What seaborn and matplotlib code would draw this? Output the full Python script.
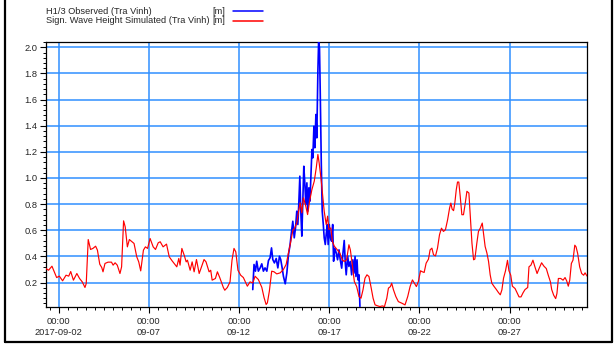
import matplotlib
matplotlib.use("Agg")
import matplotlib.pyplot as plt
import matplotlib.dates as mdates
from matplotlib.lines import Line2D
from matplotlib.ticker import MultipleLocator, FixedLocator
import numpy as np
import pandas as pd
import seaborn as sns

# Reference time for the day offsets below
T0 = pd.Timestamp("2017-09-02 00:00")

# Simulated significant wave height (Tra Vinh): day offset from T0, value [m]
sim_day = [
    -0.70, -0.56, -0.37, -0.24, -0.11, 0.04, 0.22, 0.41, 0.56, 0.67, 0.82, 1.01,
    1.16, 1.31, 1.46, 1.53, 1.64, 1.77, 1.90, 2.05, 2.15, 2.28, 2.39, 2.46, 2.57,
    2.74, 2.93, 3.02, 3.13, 3.25, 3.40, 3.49, 3.60, 3.69, 3.81, 3.92, 4.07, 4.18,
    4.33, 4.44, 4.55, 4.70, 4.81, 4.93, 5.07, 5.24, 5.37, 5.52, 5.63, 5.79, 5.98,
    6.13, 6.29, 6.48, 6.55, 6.66, 6.73, 6.83, 6.96, 7.07, 7.14, 7.29, 7.40, 7.51,
    7.64, 7.79, 8.06, 8.17, 8.34, 8.43, 8.51, 8.69, 8.80, 8.93, 9.13, 9.21, 9.35,
    9.50, 9.61, 9.72, 9.82, 9.94, 10.09, 10.24, 10.46, 10.61, 10.76, 10.89, 11.07,
    11.26, 11.39, 11.50, 11.57, 11.68, 11.81, 11.94, 12.09, 12.28, 12.46, 12.61,
    12.76, 12.87, 12.98, 13.09, 13.20, 13.30, 13.39, 13.48, 13.57, 13.70, 13.80,
    13.91, 14.04, 14.17, 14.28, 14.37, 14.44, 14.54, 14.65, 14.72, 14.83, 14.91,
    14.98, 15.09, 15.17, 15.28, 15.43, 15.59, 15.72, 15.83, 15.96, 16.09, 16.17,
    16.28, 16.39, 16.52, 16.65, 16.76, 16.87, 16.98, 17.09, 17.20, 17.31, 17.43,
    17.54, 17.69, 17.81, 17.94, 18.06, 18.19, 18.28, 18.39, 18.46, 18.56, 18.69,
    18.83, 19.02, 19.20, 19.35, 19.48, 19.61, 19.72, 19.83, 19.94, 20.06, 20.13,
    20.26, 20.37, 20.50, 20.59, 20.69, 20.78, 20.89, 21.00, 21.11, 21.22, 21.33,
    21.44, 21.56, 21.67, 21.74, 21.81, 21.89, 21.96, 22.04, 22.11, 22.18, 22.26,
    22.35, 22.44, 22.54, 22.63, 22.74, 22.81, 22.91, 23.00, 23.07, 23.18, 23.27,
    23.37, 23.48, 23.55, 23.64, 23.74, 23.83, 23.92, 24.01, 24.14, 24.25, 24.38,
    24.48, 24.57, 24.66, 24.77, 24.88, 24.96, 25.06, 25.15, 25.30, 25.43, 25.52,
    25.63, 25.74, 25.85, 26.00, 26.07, 26.18, 26.29, 26.40, 26.52, 26.63, 26.77,
    26.90, 27.03, 27.14, 27.26, 27.33, 27.44, 27.55, 27.62, 27.70, 27.83, 27.96,
    28.07, 28.16, 28.25, 28.33, 28.42, 28.51, 28.61, 28.68, 28.77, 28.88, 28.99,
    29.10, 29.18, 29.29,
]
sim_hs = [
    0.307, 0.294, 0.325, 0.282, 0.238, 0.249, 0.213, 0.256, 0.249, 0.284, 0.218, 0.269,
    0.231, 0.205, 0.162, 0.192, 0.529, 0.453, 0.461, 0.478, 0.448, 0.340, 0.315, 0.282, 0.346,
    0.356, 0.356, 0.333, 0.351, 0.333, 0.269, 0.320, 0.672, 0.626, 0.473, 0.529, 0.512, 0.499,
    0.397, 0.358, 0.289, 0.448, 0.473, 0.461, 0.537, 0.473, 0.453, 0.504, 0.512, 0.473, 0.494,
    0.397, 0.366, 0.333, 0.320, 0.384, 0.333, 0.461, 0.409, 0.358, 0.371, 0.294, 0.358, 0.282,
    0.376, 0.269, 0.376, 0.358, 0.282, 0.294, 0.218, 0.231, 0.282, 0.238, 0.162, 0.141, 0.162,
    0.205, 0.371, 0.461, 0.435, 0.294, 0.256, 0.238, 0.172, 0.205, 0.197, 0.248, 0.223,
    0.164, 0.083, 0.032, 0.044, 0.134, 0.287, 0.282, 0.266, 0.274, 0.300, 0.338,
    0.440, 0.516, 0.598, 0.618, 0.657, 0.746, 0.810, 0.733, 0.848, 0.784, 0.720,
    0.823, 0.912, 0.976, 1.078, 1.180, 1.116, 1.001, 0.848, 0.746, 0.644, 0.708,
    0.606, 0.618, 0.516, 0.478, 0.453, 0.425, 0.374, 0.361, 0.374, 0.489, 0.450,
    0.335, 0.208, 0.169, 0.093, 0.080, 0.144, 0.233, 0.259, 0.246, 0.169, 0.080,
    0.029, 0.021, 0.016, 0.021, 0.016, 0.080, 0.157, 0.169, 0.195, 0.144, 0.093,
    0.054, 0.042, 0.029, 0.093, 0.169, 0.220, 0.195, 0.169, 0.208, 0.290, 0.284,
    0.277, 0.348, 0.379, 0.450, 0.463, 0.412, 0.404, 0.463, 0.565, 0.616, 0.591,
    0.604, 0.680, 0.770, 0.808, 0.762, 0.750, 0.808, 0.910, 0.969, 0.969, 0.859,
    0.719, 0.719, 0.808, 0.898, 0.885, 0.731, 0.501, 0.374, 0.379, 0.501, 0.591,
    0.616, 0.655, 0.578, 0.476, 0.425, 0.361, 0.259, 0.195, 0.169, 0.149, 0.123,
    0.106, 0.144, 0.233, 0.290, 0.370, 0.290, 0.256, 0.172, 0.154, 0.116, 0.090,
    0.090, 0.121, 0.146, 0.162, 0.320, 0.333, 0.371, 0.320, 0.269, 0.307, 0.351,
    0.325, 0.307, 0.256, 0.205, 0.146, 0.103, 0.077, 0.116, 0.231, 0.231, 0.218,
    0.238, 0.213, 0.172, 0.218, 0.346, 0.371, 0.486, 0.473, 0.422, 0.320, 0.269,
    0.256, 0.274, 0.249,
]

# Observed H1/3 (Tra Vinh): day offset from T0, value [m]
obs_day = [
    10.76, 10.83, 10.91, 10.98, 11.07, 11.17, 11.26, 11.35, 11.44, 11.54, 11.63,
    11.72, 11.80, 11.87, 11.96, 12.06, 12.15, 12.24, 12.31, 12.39, 12.46, 12.56,
    12.65, 12.74, 12.83, 12.91, 12.98, 13.06, 13.13, 13.20, 13.26, 13.31, 13.37,
    13.43, 13.48, 13.54, 13.59, 13.65, 13.70, 13.76, 13.81, 13.87, 13.93, 13.98,
    14.04, 14.09, 14.15, 14.20, 14.26, 14.31, 14.37, 14.41, 14.46, 14.50, 14.56,
    14.61, 14.67, 14.72, 14.78, 14.83, 14.89, 14.94, 15.00, 15.06, 15.13, 15.19,
    15.24, 15.31, 15.39, 15.46, 15.54, 15.61, 15.69, 15.76, 15.83, 15.89, 15.94,
    16.02, 16.09, 16.17, 16.24, 16.31, 16.37, 16.43, 16.48, 16.54, 16.59, 16.65,
    16.70,
]
obs_hs = [
    0.146, 0.338, 0.287, 0.363, 0.287, 0.312, 0.343, 0.287, 0.312, 0.287, 0.368,
    0.389, 0.465, 0.376, 0.350, 0.384, 0.312, 0.401, 0.376, 0.312, 0.248, 0.190,
    0.274, 0.414, 0.491, 0.593, 0.669, 0.542, 0.618, 0.746, 0.644, 0.797, 1.014,
    0.720, 0.555, 0.848, 1.090, 0.950, 0.797, 0.963, 0.746, 0.925, 0.823, 1.001,
    1.218, 1.154, 1.396, 1.231, 1.486, 1.307, 1.817, 2.040, 1.996, 1.664, 1.103,
    0.746, 0.644, 0.542, 0.491, 0.567, 0.644, 0.491, 0.644, 0.542, 0.516, 0.644,
    0.363, 0.463, 0.425, 0.374, 0.450, 0.374, 0.310, 0.425, 0.522, 0.348, 0.259,
    0.404, 0.323, 0.361, 0.259, 0.374, 0.272, 0.399, 0.246, 0.374, 0.220, 0.259,
    0.016,
]

# Axis text
obs_label = "H1/3 Observed (Tra Vinh)"
sim_label = "Sign. Wave Height Simulated (Tra Vinh)"
unit_label = "[m]"
x_tick_dates = ["2017-09-02", "2017-09-07", "2017-09-12", "2017-09-17", "2017-09-22", "2017-09-27"]
x_tick_labels = ["00:00\n2017-09-02", "00:00\n09-07", "00:00\n09-12",
                 "00:00\n09-17", "00:00\n09-22", "00:00\n09-27"]
y_ticks = [0.2, 0.4, 0.6, 0.8, 1.0, 1.2, 1.4, 1.6, 1.8, 2.0]

sim_df = pd.DataFrame({"time": T0 + pd.to_timedelta(sim_day, unit="D"), "hs": sim_hs})
obs_df = pd.DataFrame({"time": T0 + pd.to_timedelta(obs_day, unit="D"), "hs": obs_hs})

sns.set_style("white")
plt.rcParams["font.family"] = ["Liberation Sans", "DejaVu Sans"]
FS = 6.7
BLUE = "#0000ff"
RED = "#ff0000"
GRID = "#3090ff"

W, H = 616, 344
fig = plt.figure(figsize=(W / 100, H / 100), dpi=100)
ax = fig.add_axes([46 / W, 1 - 306.7 / H, (586.7 - 46) / W, (306.7 - 41.7) / H])

sns.lineplot(data=obs_df, x="time", y="hs", color=BLUE, lw=1.2, ax=ax,
             estimator=None, sort=False, zorder=3)
sns.lineplot(data=sim_df, x="time", y="hs", color=RED, lw=0.85, ax=ax,
             estimator=None, sort=False, zorder=4)

ax.set_xlim(T0 + pd.Timedelta(days=-0.70), T0 + pd.Timedelta(days=29.27))
ax.set_ylim(0.015, 2.043)

# Axis ticks
major_x = [mdates.date2num(pd.Timestamp(d)) for d in x_tick_dates]
ax.xaxis.set_major_locator(FixedLocator(major_x))
ax.set_xticklabels(x_tick_labels, fontsize=FS, linespacing=1.3)
ax.xaxis.set_minor_locator(mdates.HourLocator(byhour=[0, 12]))
ax.yaxis.set_major_locator(FixedLocator(y_ticks))
ax.set_yticklabels([f"{v:.1f}" for v in y_ticks], fontsize=FS)
ax.yaxis.set_minor_locator(MultipleLocator(0.04))
ax.tick_params(which="major", direction="out", length=4, width=0.8, color="black",
               pad=2, left=True, bottom=True)
ax.tick_params(axis="x", which="major", pad=3.5)
ax.tick_params(which="minor", direction="out", length=2.2, width=0.7, color="black",
               left=True, bottom=True)
ax.set_xlabel("")
ax.set_ylabel("")

ax.grid(True, which="major", color=GRID, lw=1.1, zorder=1)
ax.set_axisbelow(True)
for s in ax.spines.values():
    s.set_visible(True)
    s.set_color("black")
    s.set_linewidth(0.9)
if ax.get_legend() is not None:
    ax.get_legend().remove()

# Legend block above the plot
for yy, lab, col in [(11, obs_label, BLUE), (20.5, sim_label, RED)]:
    fig.text(46 / W, 1 - yy / H, lab, fontsize=FS, va="center", ha="left")
    fig.text(212 / W, 1 - yy / H, unit_label, fontsize=FS, va="center", ha="left")
    fig.add_artist(Line2D([233 / W, 263 / W], [1 - yy / H, 1 - yy / H],
                          transform=fig.transFigure, color=col, lw=1.1))

# Outer frame
frame_kw = dict(transform=fig.transFigure, color="black", lw=1.6)
fig.add_artist(Line2D([4.5 / W, 4.5 / W], [1.0, 1 - 341.5 / H], **frame_kw))
fig.add_artist(Line2D([4.5 / W, 611.5 / W], [1 - 341.5 / H, 1 - 341.5 / H], **frame_kw))
fig.add_artist(Line2D([611.5 / W, 611.5 / W], [1.0, 1 - 341.5 / H], **frame_kw))

fig.savefig("out.png", dpi=100, facecolor="white")
